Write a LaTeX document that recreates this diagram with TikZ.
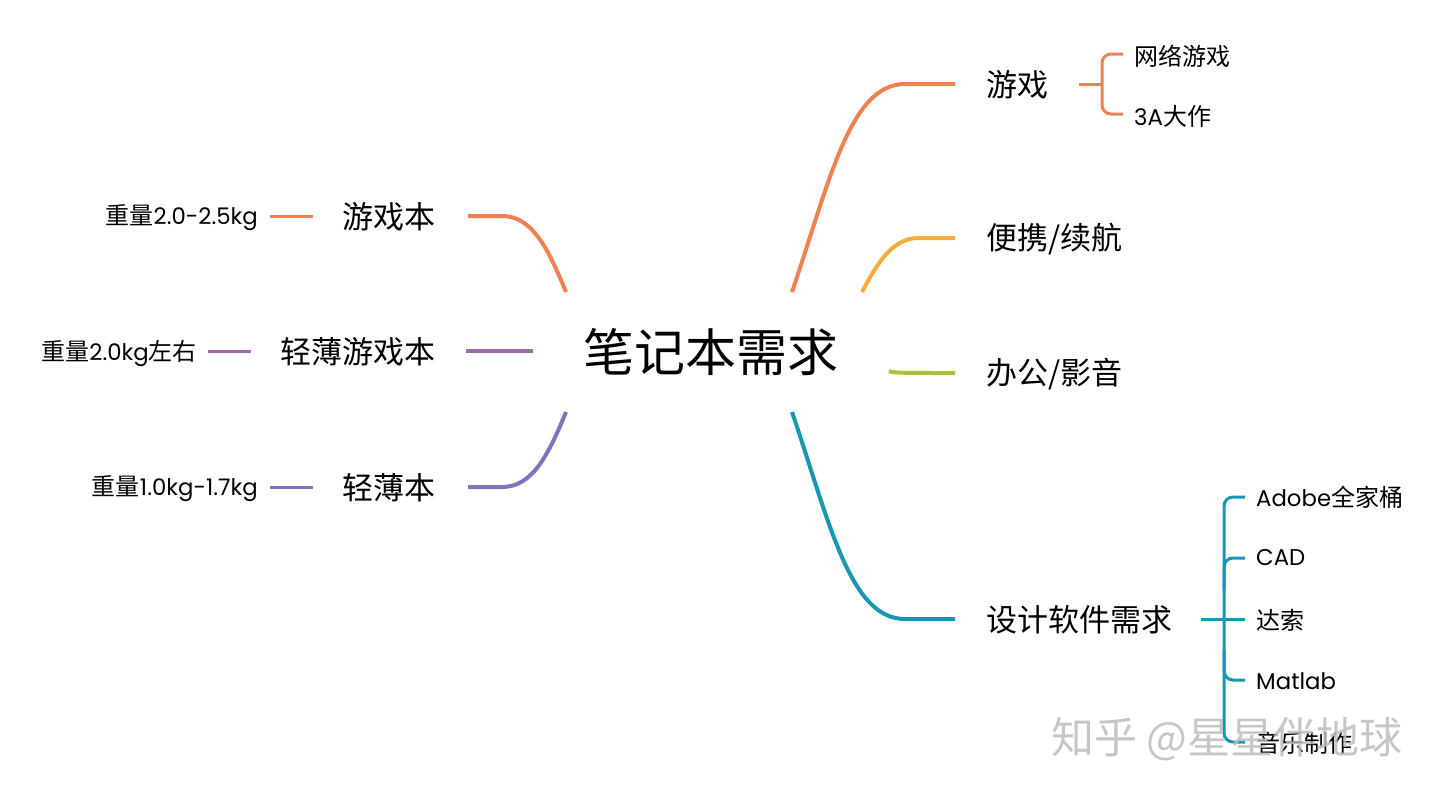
\documentclass[tikz,border=0pt]{standalone}
\usepackage{fontspec}
\setmainfont{Poppins}[Scale=0.95]
\newfontfamily\cjk{Noto Sans CJK SC}
\definecolor{corange}{HTML}{F08154}
\definecolor{cyellow}{HTML}{F6AE3A}
\definecolor{cgreen}{HTML}{A9C33C}
\definecolor{cteal}{HTML}{1797B3}
\definecolor{cpurple}{HTML}{9E69AA}
\definecolor{cblue}{HTML}{7B77BA}
\definecolor{wm}{HTML}{BDBDBD}
\tikzset{
  br/.style={line width=4pt},
  sub/.style={line width=3pt},
  txt/.style={inner sep=0pt, text=black},
  root/.style={txt, font=\cjk\fontsize{51}{51}\selectfont},
  lvl/.style={txt, font=\cjk\fontsize{31}{31}\selectfont},
  leaf/.style={txt, font=\fontsize{24}{24}\selectfont},
}
\newcommand{\zh}[1]{{\cjk #1}}
\begin{document}
\begin{tikzpicture}[x=1pt,y=-1pt]
\useasboundingbox[fill=white] (0,0) rectangle (1440,796);

% root
\node[root] (root) at (711,352) {笔记本需求};
\coordinate (rUL) at (566,292);
\coordinate (rLL) at (566,412);
\coordinate (rUR1) at (792,292);
\coordinate (rUR2) at (862,292);
\coordinate (rR) at (889,371);
\coordinate (rLR) at (792,412);

% left branches
\node[lvl, anchor=east] (gb) at (436,217) {游戏本};
\node[lvl, anchor=east] (qbgb) at (436,352) {轻薄游戏本};
\node[lvl, anchor=east] (qb) at (436,488) {轻薄本};
\coordinate (gbE) at (468,216);
\coordinate (qbgbE) at (466,351);
\coordinate (qbgbS) at (533,351);
\coordinate (qbE) at (468,487);

\draw[br, corange] (rUL) .. controls (548,248) and (532,216) .. (502,216) -- (gbE);
\draw[br, cpurple] (qbgbS) -- (qbgbE);
\draw[br, cblue] (rLL) .. controls (548,456) and (532,487) .. (502,487) -- (qbE);

\node[leaf, anchor=east] (w1) at (258,218) {\zh{重量}2.0-2.5kg};
\node[leaf, anchor=east] (w2) at (197,353) {\zh{重量}2.0kg\zh{左右}};
\node[leaf, anchor=east] (w3) at (258,489) {\zh{重量}1.0kg-1.7kg};
\coordinate (w1a) at (270,216); \coordinate (w1b) at (313,216);
\coordinate (w2a) at (208,351); \coordinate (w2b) at (251,351);
\coordinate (w3a) at (270,487); \coordinate (w3b) at (313,487);
\draw[sub, corange] (w1a) -- (w1b);
\draw[sub, cpurple] (w2a) -- (w2b);
\draw[sub, cblue] (w3a) -- (w3b);

% right branches
\node[lvl, anchor=west] (yx) at (986,85) {游戏};
\node[lvl, anchor=west] (bx) at (986,239) {便携/续航};
\node[lvl, anchor=west] (bg) at (986,374) {办公/影音};
\node[lvl, anchor=west] (sj) at (986,620) {设计软件需求};
\coordinate (yxW) at (955,84);
\coordinate (bxW) at (955,238);
\coordinate (bgW) at (955,373);
\coordinate (sjW) at (955,619);

\draw[br, corange] (rUR1) .. controls (830,180) and (850,84) .. (905,84) -- (yxW);
\draw[br, cyellow] (rUR2) .. controls (874,270) and (890,238) .. (918,238) -- (bxW);
\draw[br, cgreen] (rR) .. controls (893,373) and (900,373) .. (bgW);
\draw[br, cteal] (rLR) .. controls (830,524) and (850,619) .. (905,619) -- (sjW);

% game leaves
\node[leaf, anchor=west] (g1) at (1134,56) {\zh{网络游戏}};
\node[leaf, anchor=west] (g2) at (1134,116) {3A\zh{大作}};
\coordinate (gS) at (1079,84);
\coordinate (gM) at (1102,84);
\coordinate (g1W) at (1123,54);
\coordinate (g2W) at (1123,114);
\draw[sub, corange] (gS) -- (gM);
\draw[sub, corange, rounded corners=9pt] (g1W) -- (1102,54) -- (1102,114) -- (g2W);

% design leaves
\node[leaf, anchor=west] (d1) at (1256,497) {Adobe\zh{全家桶}};
\node[leaf, anchor=west] (d2) at (1256,558) {CAD};
\node[leaf, anchor=west] (d3) at (1256,620) {\zh{达索}};
\node[leaf, anchor=west] (d4) at (1256,681) {Matlab};
\node[leaf, anchor=west] (d5) at (1256,743) {\zh{音乐制作}};
\coordinate (dS) at (1201,619);
\coordinate (dM) at (1224,619);
\coordinate (d1W) at (1245,497);
\coordinate (d2W) at (1245,558);
\coordinate (d3W) at (1245,619);
\coordinate (d4W) at (1245,680);
\coordinate (d5W) at (1245,742);
\draw[sub, cteal] (dS) -- (d3W);
\draw[sub, cteal, rounded corners=9pt] (d1W) -- (1224,497) -- (1224,742) -- (d5W);
\draw[sub, cteal, rounded corners=9pt] (d2W) -- (1224,558) -- (1224,590);
\draw[sub, cteal, rounded corners=9pt] (d4W) -- (1224,680) -- (1224,650);

% watermark
\node[inner sep=0pt, anchor=west, text=wm, opacity=0.85, font=\cjk\fontsize{43}{43}\selectfont] (wmk) at (1051,739) {知乎 @星星伴地球};
\end{tikzpicture}
\end{document}
